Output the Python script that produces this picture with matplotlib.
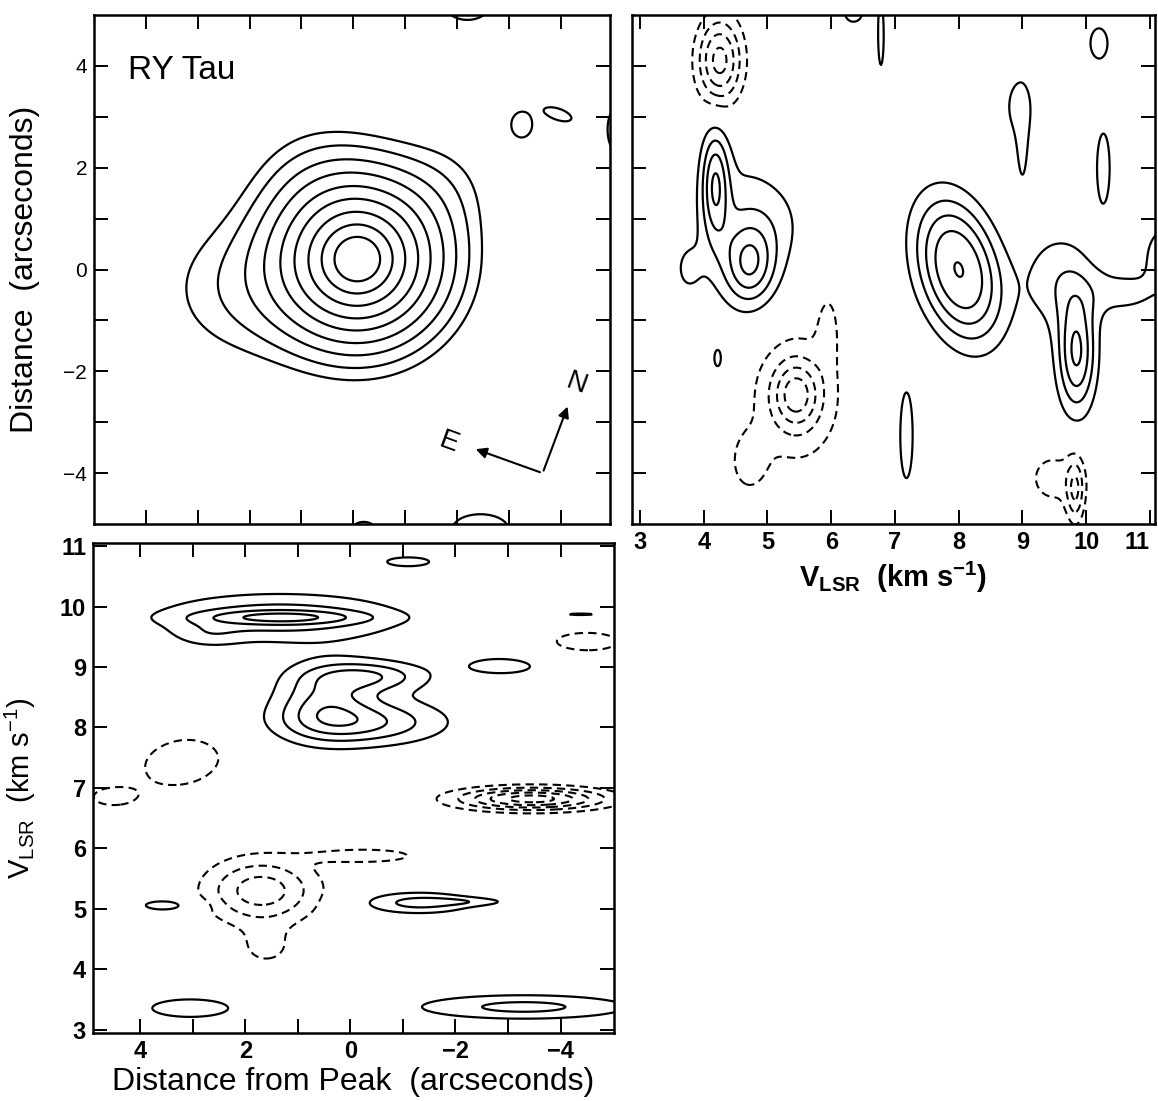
import numpy as np
import matplotlib
matplotlib.use('Agg')
import matplotlib.pyplot as plt

plt.rcParams['font.family'] = ['Liberation Sans', 'DejaVu Sans']
plt.rcParams['mathtext.default'] = 'regular'

# Components:
# (x0, y0, sigma_x, sigma_y, amplitude, tilt[, shape exponent])
# --- RY Tau map (x = offset E, y = offset N, arcsec)
map_blobs = [
    (-0.1, 0.2, 1.0, 1.0, 1.0, 0.0),
    (2.2, -0.4, 1.1, 1.0, 0.09, 0.0),
    (0.8, 1.8, 0.8, 0.8, 0.05, 0.0),
    (-1.8, 1.7, 0.7, 0.7, 0.04, 0.0),
    (-3.25, 2.85, 0.2, 0.25, 0.1, 0.0),
    (-3.95, 3.05, 0.22, 0.14, 0.1, 1.0),
    (-5.05, 2.75, 0.15, 0.4, 0.1, 0.0),
    (-2.45, -5.1, 0.55, 0.3, 0.1, 0.0),
    (-0.2, -5.1, 0.3, 0.2, 0.08, 0.0),
    (-2.2, 5.15, 0.4, 0.25, 0.1, 0.0),
]
map_levels = [0.062, 0.106, 0.174, 0.265, 0.385, 0.52, 0.67, 0.81, 0.923]

# --- position-velocity cut along declination (x = V_LSR, y = distance)
pv_dec_blobs = [
    (4.18, 1.7, 0.15, 0.75, 3.5, 0.0),
    (4.72, 0.08, 0.28, 0.55, 3.2, 0.0),
    (4.6, 0.85, 0.5, 1.0, 1.5, 0.0),
    (5.2, 0.9, 0.35, 0.6, 0.6, 0.0),
    (3.75, 0.0, 0.18, 0.4, 1.0, 0.0),
    (4.22, -1.75, 0.08, 0.25, 1.3, 0.0),
    (8.0, 0.0, 0.48, 1.05, 5.02, -0.15, 1.2),
    (7.18, -3.25, 0.12, 1.04, 1.4, 0.0),
    (8.95, 3.2, 0.2, 0.55, 1.35, 0.0),
    (9.0, 2.3, 0.07, 0.6, 1.2, 0.0),
    (10.27, 2.0, 0.12, 0.82, 1.4, 0.0),
    (10.2, 4.45, 0.16, 0.35, 1.4, 0.0),
    (6.35, 5.05, 0.15, 0.2, 1.5, 0.0),
    (6.78, 4.6, 0.06, 0.8, 1.3, 0.0),
    (9.85, -1.65, 0.21, 0.8, 4.1, 0.0),
    (9.55, -0.2, 0.4, 0.7, 1.6, 0.0),
    (10.6, -0.45, 0.5, 0.35, 1.25, 0.0),
    (11.3, 0.3, 0.25, 0.4, 2.2, 0.0),
    (4.25, 4.1, 0.25, 0.6, -4.4, 0.0),
    (5.45, -2.45, 0.25, 0.45, -3.0, 0.0),
    (5.45, -2.55, 0.55, 1.0, -1.8, 0.0),
    (4.7, -3.8, 0.22, 0.45, -1.3, 0.0),
    (5.95, -1.1, 0.13, 0.55, -1.1, 0.0),
    (9.83, -4.35, 0.1, 0.45, -2.6, 0.0),
    (9.5, -4.1, 0.35, 0.45, -1.4, 0.0),
]

# --- position-velocity cut along RA (x = distance from peak, y = V_LSR)
pv_ra_blobs = [
    (-1.1, 10.74, 0.44, 0.08, 1.5, 0.0),
    (1.35, 9.82, 1.64, 0.28, 2.6, 0.0),
    (1.3, 9.82, 1.07, 0.08, 2.0, 0.0),
    (2.7, 9.52, 0.45, 0.15, 0.8, 0.0),
    (0.5, 8.45, 0.6, 0.4, 2.2, 0.0),
    (-0.2, 8.07, 1.1, 0.25, 2.6, 0.0),
    (-0.35, 8.85, 0.75, 0.17, 2.4, 0.0),
    (0.0, 8.45, 1.2, 0.5, 0.7, 0.0),
    (-2.9, 9.02, 0.62, 0.13, 1.5, 0.0),
    (-4.4, 9.87, 0.66, 0.04, 1.15, 0.0),
    (3.5, 5.06, 0.46, 0.09, 1.5, 0.0),
    (-1.3, 5.1, 0.75, 0.13, 2.3, 0.0),
    (-2.3, 5.12, 0.6, 0.05, 1.0, 0.0),
    (3.05, 3.36, 0.8, 0.16, 1.5, 0.0),
    (-3.3, 3.38, 1.5, 0.15, 2.3, 0.0),
    (3.2, 7.43, 0.8, 0.44, -1.45, -0.4),
    (4.55, 6.85, 0.38, 0.14, -1.3, 0.0),
    (-4.5, 9.42, 0.8, 0.2, -1.3, 0.0),
    (-3.45, 6.82, 0.98, 0.13, -5.5, 0.0),
    (1.7, 5.3, 0.75, 0.38, -3.6, 0.0),
    (-0.3, 5.88, 0.8, 0.1, -1.6, 0.0),
    (1.6, 4.35, 0.4, 0.25, -1.2, 0.0),
]
pv_pos_levels = [1, 2, 3, 4, 5]
pv_neg_levels = [-5, -4, -3, -2, -1]
dist_ticks = [-4, -3, -2, -1, 0, 1, 2, 3, 4]
dist_labels = ['\u22124', '', '\u22122', '', '0', '', '2', '', '4']
vel_ticks = [3, 4, 5, 6, 7, 8, 9, 10, 11]


def field(xg, yg, blobs):
    z = np.zeros_like(xg)
    for b in blobs:
        x0, y0, sx, sy, a, tilt = b[:6]
        p = b[6] if len(b) > 6 else 1.0
        u = (xg - x0 - tilt * (yg - y0)) / sx
        v = (yg - y0) / sy
        z += a * np.exp(-0.5 * (u * u + v * v) ** p)
    return z


def style_axes(ax, bold):
    ax.tick_params(direction='in', length=10, width=1.4, top=True, right=True,
                   labelsize=15, pad=5)
    for s in ax.spines.values():
        s.set_linewidth(1.8)
    if bold:
        for t in ax.get_xticklabels() + ax.get_yticklabels():
            t.set_fontweight('bold')
            t.set_fontsize(17)


dash = (0, (4, 2.5))
fig = plt.figure(figsize=(11.58, 11.01), dpi=100)

# top-left: map
ax1 = fig.add_axes([0.0812, 0.524, 0.4456, 0.4623])
xg, yg = np.meshgrid(np.linspace(-5.5, 5.5, 500), np.linspace(-5.5, 5.5, 500))
ax1.contour(xg, yg, field(xg, yg, map_blobs), levels=map_levels,
            colors='k', linewidths=1.6, linestyles='solid')
ax1.set_xlim(5, -4.95)
ax1.set_ylim(-5, 5)
ax1.set_xticks(dist_ticks)
ax1.set_xticklabels([])
ax1.set_yticks(dist_ticks)
ax1.set_yticklabels(dist_labels)
ax1.set_ylabel('Distance  (arcseconds)', fontsize=23)
ax1.yaxis.set_label_coords(-0.105, 0.5)
ax1.text(4.34, 3.92, 'RY Tau', fontsize=24, va='center', ha='left')
style_axes(ax1, False)
# compass
ax1.annotate('', xy=(-4.15, -2.64), xytext=(-3.65, -4.0),
             arrowprops=dict(arrowstyle='-|>', lw=1.5, color='k', mutation_scale=16))
ax1.annotate('', xy=(-2.31, -3.51), xytext=(-3.65, -4.0),
             arrowprops=dict(arrowstyle='-|>', lw=1.5, color='k', mutation_scale=16))
ax1.text(-4.3, -2.25, 'N', fontsize=20, rotation=-20, ha='center', va='center')
ax1.text(-1.85, -3.4, 'E', fontsize=20, rotation=-20, ha='center', va='center')

# top-right: PV along declination
ax2 = fig.add_axes([0.5458, 0.524, 0.4516, 0.4623])
xg, yg = np.meshgrid(np.linspace(2.5, 11.5, 600), np.linspace(-5.5, 5.5, 600))
z2 = field(xg, yg, pv_dec_blobs)
ax2.contour(xg, yg, z2, levels=pv_pos_levels, colors='k', linewidths=1.6,
            linestyles='solid')
ax2.contour(xg, yg, z2, levels=pv_neg_levels, colors='k', linewidths=1.5,
            linestyles=[dash])
ax2.set_xlim(2.875, 11.08)
ax2.set_ylim(-5, 5)
ax2.set_xticks(vel_ticks)
ax2.set_yticks(dist_ticks)
ax2.set_yticklabels([])
style_axes(ax2, True)
# last label sits at the figure edge, keep it inside
ax2.get_xticklabels()[-1].set_horizontalalignment('right')
ax2.set_xlabel(r'V$_{LSR}$  (km s$^{-1}$)', fontsize=21, fontweight='bold', labelpad=4)

# bottom: PV along RA
ax3 = fig.add_axes([0.0803, 0.0618, 0.45, 0.445])
xg, yg = np.meshgrid(np.linspace(-5.5, 5.5, 600), np.linspace(2.5, 11.5, 900))
z3 = field(xg, yg, pv_ra_blobs)
ax3.contour(xg, yg, z3, levels=pv_pos_levels, colors='k', linewidths=1.6,
            linestyles='solid')
ax3.contour(xg, yg, z3, levels=pv_neg_levels, colors='k', linewidths=1.5,
            linestyles=[dash])
ax3.set_xlim(4.9, -5.02)
ax3.set_ylim(2.95, 11.05)
ax3.set_xticks(dist_ticks)
ax3.set_xticklabels(dist_labels)
ax3.set_yticks(vel_ticks)
style_axes(ax3, True)
ax3.set_xlabel('Distance from Peak  (arcseconds)', fontsize=23, labelpad=3)
ax3.set_ylabel(r'V$_{LSR}$  (km s$^{-1}$)', fontsize=21)
ax3.yaxis.set_label_coords(-0.105, 0.5)

fig.savefig('out.png', dpi=100)
